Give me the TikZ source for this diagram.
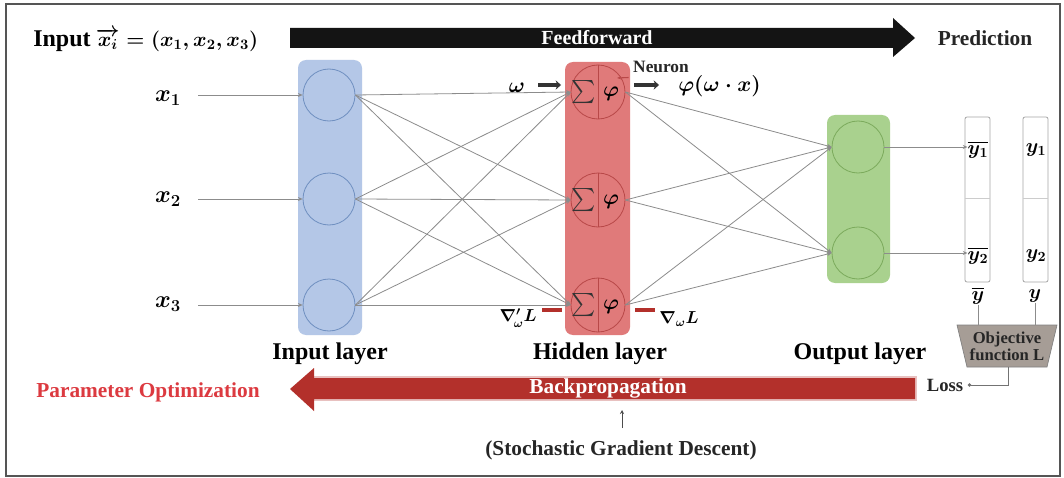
\RequirePackage{fix-cm}
\documentclass[tikz,border=0pt]{standalone}
\usepackage{amsmath}
\usepackage{fontspec}
\setmainfont{Liberation Serif}
\usetikzlibrary{arrows.meta,calc}
\definecolor{bluefill}{HTML}{B4C7E7}
\definecolor{blueline}{HTML}{6F8FC0}
\definecolor{redfill}{HTML}{E07A7A}
\definecolor{redline}{HTML}{B84848}
\definecolor{greenfill}{HTML}{A9D18E}
\definecolor{greenline}{HTML}{7BAA5C}
\definecolor{conn}{HTML}{8C8C8C}
\definecolor{bparrow}{HTML}{B3302B}
\definecolor{paramred}{HTML}{DC3A40}
\definecolor{objfill}{HTML}{A69D96}
\definecolor{framec}{HTML}{555555}
\newcommand\setfs[1]{\fontsize{#1}{#1}\selectfont}
\newcommand\bmm[1]{{\mathversion{bold}$#1$}}
\newcommand\titletext{\setfs{18}\bfseries Input\hspace{4pt}{\setfs{15.5}\bmm{\overrightarrow{x_i}=(x_1,x_2,x_3)}}}
\begin{document}
\begin{tikzpicture}[x=0.75pt,y=-0.75pt,
  layerbox/.style={rounded corners=6pt, inner sep=0pt, minimum width=48pt},
  incirc/.style={circle, draw=blueline, line width=0.6pt, minimum size=39pt, inner sep=0pt},
  hidcirc/.style={circle, draw=redline, line width=0.6pt, minimum size=40.5pt, inner sep=0pt},
  outcirc/.style={circle, draw=greenline, line width=0.6pt, minimum size=39pt, inner sep=0pt},
  link/.style={draw=conn, line width=0.6pt, -{Stealth[length=3.5pt,width=3pt]}},
  plain/.style={draw=conn, line width=0.6pt},
  lbl/.style={font=\setfs{18}\bfseries},
  sumlbl/.style={inner sep=0pt, font=\setfs{16}, text=black!80},
  philbl/.style={inner sep=0pt, font=\setfs{16}},
  ylbl/.style={inner sep=0pt, font=\setfs{15}},
  valbox/.style={draw=black!35, rounded corners=1.5pt, line width=0.6pt, minimum width=18.75pt, minimum height=123.75pt, inner sep=0pt},
  thickarr/.style={draw=black!80, line width=3pt, -{Stealth[length=4pt,width=7pt]}},
  reddash/.style={draw=bparrow, line width=2.6pt},
  divline/.style={draw=redline, line width=0.5pt}
]
\useasboundingbox (0,0) rectangle (1064,478);
\fill[white] (0,0) rectangle (1064,478);
\draw[draw=framec, line width=1.5pt] (6,4) rectangle (1060,476);

\node[anchor=west, inner sep=0pt] (title) at (33,40) {\titletext};

\fill[black!92] (290,28) -- (893,28) -- (893,18) -- (915,38) -- (893,57) -- (893,48) -- (290,48) -- cycle;
\node[text=white, font=\setfs{15}\bfseries] (ff) at (597,38) {Feedforward};
\node[font=\setfs{16}\bfseries, text=black!85] (pred) at (985,38) {Prediction};

\node[layerbox, fill=bluefill, minimum height=206.25pt] (inbox) at (330,197.5) {};
\node[layerbox, fill=redfill, minimum height=204.75pt, minimum width=48.75pt] (hidbox) at (597.5,198.5) {};
\node[layerbox, fill=greenfill, minimum height=126pt, minimum width=47.25pt] (outbox) at (858.5,199) {};

\node[incirc] (i1) at (329,95) {};
\node[incirc] (i2) at (329,199) {};
\node[incirc] (i3) at (329,305) {};
\node[hidcirc] (h1) at (598,92) {};
\node[hidcirc] (h2) at (598,200) {};
\node[hidcirc] (h3) at (598,305) {};
\node[outcirc] (o1) at (858,147) {};
\node[outcirc] (o2) at (858,253) {};

\draw[divline] (h1.north) -- (h1.south);
\draw[divline] (h2.north) -- (h2.south);
\draw[divline] (h3.north) -- (h3.south);
\node[sumlbl] (h1s) at (584,92) {$\sum$};
\node[sumlbl] (h2s) at (584,200) {$\sum$};
\node[sumlbl] (h3s) at (584,305) {$\sum$};
\node[philbl] (h1p) at (611,94) {\bmm{\varphi}};
\node[philbl] (h2p) at (611,202) {\bmm{\varphi}};
\node[philbl] (h3p) at (611,307) {\bmm{\varphi}};

\node[lbl] (x1) at (168,98) {\bmm{x_1}};
\node[lbl] (x2) at (168,199) {\bmm{x_2}};
\node[lbl] (x3) at (168,304) {\bmm{x_3}};
\coordinate (x1s) at (198,95);
\coordinate (x2s) at (198,199);
\coordinate (x3s) at (198,305);
\draw[link] (x1s) -- (i1.west);
\draw[link] (x2s) -- (i2.west);
\draw[link] (x3s) -- (i3.west);

\foreach \a in {i1,i2,i3}{
  \foreach \b in {h1,h2,h3}{
    \draw[link] (\a.east) -- (\b.west);
  }
}
\foreach \a in {h1,h2,h3}{
  \foreach \b in {o1,o2}{
    \draw[link] (\a.east) -- (\b.west);
  }
}

\node[font=\setfs{13}\bfseries, text=black!85] (neuron) at (661,67) {Neuron};
\coordinate (ntip) at (617,78);
\draw[redline, line width=0.8pt, -{Stealth[length=3pt]}] (neuron.south west) -- (ntip);
\node[philbl] (omega) at (517,88) {\bmm{\omega}};
\coordinate (wa1) at (538,85);
\coordinate (wa2) at (561,85);
\draw[thickarr] (wa1) -- (wa2);
\coordinate (pa1) at (634,85);
\coordinate (pa2) at (659,85);
\draw[thickarr] (pa1) -- (pa2);
\node[anchor=west, inner sep=0pt, font=\setfs{16}] (phiw) at (678,86) {\bmm{\varphi(\omega\cdot x)}};

\coordinate (rd1) at (542,310);
\coordinate (rd2) at (562,310);
\draw[reddash] (rd1) -- (rd2);
\coordinate (rd3) at (635,310);
\coordinate (rd4) at (655,310);
\draw[reddash] (rd3) -- (rd4);
\node[anchor=east, inner sep=0pt, font=\setfs{13}] (gradl) at (537,318) {\bmm{\nabla'_{\!\omega}L}};
\node[anchor=west, inner sep=0pt, font=\setfs{13}] (gradr) at (659,319) {\bmm{\nabla_{\omega}L}};

\node[lbl] (inlbl) at (330,354) {Input layer};
\node[lbl] (hidlbl) at (600,354) {Hidden layer};
\node[lbl] (outlbl) at (860,354) {Output layer};

\node[valbox] (c1) at (977.5,199.5) {};
\node[valbox] (c2) at (1035.5,199.5) {};
\coordinate (d1a) at (965,198);
\coordinate (d1b) at (990,198);
\coordinate (d2a) at (1023,198);
\coordinate (d2b) at (1048,198);
\draw[black!20, line width=0.6pt] (d1a) -- (d1b);
\draw[black!20, line width=0.6pt] (d2a) -- (d2b);
\node[ylbl] (yb1) at (978,150) {\bmm{\overline{y_1}}};
\node[ylbl] (yb2) at (978,256) {\bmm{\overline{y_2}}};
\node[ylbl] (y1) at (1036,150) {\bmm{y_1}};
\node[ylbl] (y2) at (1036,256) {\bmm{y_2}};
\draw[link] (o1.east) -- (yb1.west |- o1.east);
\draw[link] (o2.east) -- (yb2.west |- o2.east);
\node[ylbl] (ybar) at (978,296) {\bmm{\overline{y}}};
\node[ylbl] (yv) at (1035,296) {\bmm{y}};

\coordinate (tl) at (957,325);
\coordinate (tr) at (1057,325);
\coordinate (br) at (1047,367);
\coordinate (bl) at (967,367);
\filldraw[fill=objfill, draw=black!50, line width=0.5pt] (tl) -- (tr) -- (br) -- (bl) -- cycle;
\node[align=center, inner sep=0pt, font=\setfs{12.5}\bfseries, text=black!85] (obj) at (1007,346) {Objective\\function L};
\coordinate (ybt) at (978,325);
\coordinate (yvt) at (1035,325);
\draw[plain] (ybar.south) -- (ybt);
\draw[plain] (yv.south) -- (yvt);
\coordinate (objb) at (1008,367);
\node[font=\setfs{14}\bfseries, text=black!85] (loss) at (945,385) {Loss};
\draw[draw=black!55, line width=0.6pt, -{Circle[length=2.5pt]}] (objb) |- (loss.east);

\fill[bparrow!30] (313,376) -- (917,376) -- (917,401) -- (313,401) -- cycle;
\fill[bparrow] (314,378) -- (915,378) -- (915,399) -- (314,399) -- (314,411) -- (290,389) -- (314,368) -- cycle;
\node[text=white, font=\setfs{16}\bfseries] (bp) at (608,388) {Backpropagation};
\node[text=paramred, font=\setfs{16}\bfseries] (po) at (148,392) {Parameter Optimization};

\coordinate (sgdt) at (622,410);
\node[font=\setfs{16}\bfseries, text=black!85] (sgd) at (621,450) {(Stochastic Gradient Descent)};
\coordinate (sgdb) at (622,428);
\draw[black!70, line width=0.6pt, -{Stealth[length=3pt,width=3pt]}] (sgdb) -- (sgdt);
\end{tikzpicture}
\end{document}
